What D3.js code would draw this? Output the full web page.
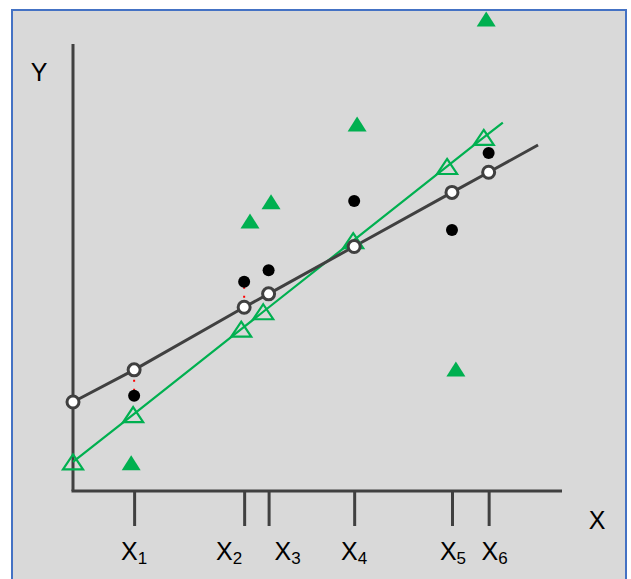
<!DOCTYPE html>
<html>
<head>
<meta charset="utf-8">
<script src="https://cdn.jsdelivr.net/npm/d3@7"></script>
<style>
  html, body { margin: 0; padding: 0; background: #ffffff; }
  svg { display: block; }
  text { font-family: "Liberation Sans", Arial, sans-serif; fill: #000; }
</style>
</head>
<body>
<svg id="chart" width="631" height="579"></svg>
<script>
// Tick categories along X
const tickNames = ["X", "X", "X", "X", "X", "X"];
const tickSubs  = ["1", "2", "3", "4", "5", "6"];
const tickX     = [1.25, 3.5, 4.0, 5.75, 7.75, 8.5];

// Observed values (black dots)
const observedY = [2.13, 4.68, 4.94, 6.49, 5.84, 7.56];

// Fitted values on the dark line (open circles), including the intercept point
const fitX = [0, 1.25, 3.5, 4.0, 5.75, 7.75, 8.5];
const fitY = [1.99, 2.71, 4.11, 4.41, 5.47, 6.68, 7.13];
const fitEnd = [9.51, 7.74];

// Second series (filled green triangles)
const greenX = [1.19, 3.62, 4.05, 5.81, 7.83, 8.45];
const greenY = [0.63, 6.04, 6.47, 8.21, 2.73, 10.56];

// Fitted values on the green line (open triangles), including the intercept point
const greenFitX = [0, 1.23, 3.44, 3.89, 5.73, 7.65, 8.40];
const greenFitY = [0.65, 1.71, 3.62, 4.01, 5.60, 7.26, 7.91];
const greenFitEnd = [8.79, 8.24];

// Residuals marked with a dotted red segment (indices into tickX)
const residualIdx = [0, 1];

const svg = d3.select("#chart");
const green = "#00b050";
const axisCol = "#404040";

// Frame
svg.append("rect")
  .attr("x", 12).attr("y", 10)
  .attr("width", 614).attr("height", 590)
  .attr("fill", "#d9d9d9")
  .attr("stroke", "#4472c4").attr("stroke-width", 2);

const x = d3.scaleLinear().domain([0, 10]).range([73, 562]);
const y = d3.scaleLinear().domain([0, 10]).range([491, 44]);

// Axes
svg.append("line")
  .attr("x1", x(0)).attr("x2", x(0))
  .attr("y1", y(0)).attr("y2", y(10))
  .attr("stroke", axisCol).attr("stroke-width", 3);

const xAxis = d3.axisBottom(x)
  .tickValues(tickX)
  .tickSize(35)
  .tickSizeOuter(0)
  .tickFormat("");
const gx = svg.append("g")
  .attr("transform", `translate(0,${y(0)})`)
  .call(xAxis);
gx.select(".domain").attr("stroke", axisCol).attr("stroke-width", 3)
  .attr("d", `M${x(0) - 1.5},0H${x(10)}`);
gx.selectAll(".tick line").attr("stroke", axisCol).attr("stroke-width", 3);

// Tick labels with subscripts; the close pair X2/X3 is spread apart
const labelNudge = [0, -15, 19, 0, 1, 6];
tickX.forEach((v, i) => {
  const t = svg.append("text")
    .attr("x", x(v) + labelNudge[i]).attr("y", 560)
    .attr("text-anchor", "middle")
    .style("font-size", "25px");
  t.append("tspan").text(tickNames[i]);
  t.append("tspan").attr("dy", 4).style("font-size", "17px").text(tickSubs[i]);
});

svg.append("text").attr("x", 597).attr("y", 529)
  .attr("text-anchor", "middle").style("font-size", "25px").text("X");
svg.append("text").attr("x", 39).attr("y", 81)
  .attr("text-anchor", "middle").style("font-size", "25px").text("Y");

const line = d3.line().x(d => x(d[0])).y(d => y(d[1]));

// Green fitted line
const greenPts = greenFitX.map((v, i) => [v, greenFitY[i]]).concat([greenFitEnd]);
svg.append("path").attr("d", line(greenPts))
  .attr("fill", "none").attr("stroke", green).attr("stroke-width", 2.2);

// Dark fitted line
const fitPts = fitX.map((v, i) => [v, fitY[i]]).concat([fitEnd]);
svg.append("path").attr("d", line(fitPts))
  .attr("fill", "none").attr("stroke", axisCol).attr("stroke-width", 3);

// Triangle path centred on its bounding box
function tri(w, h) {
  return `M0,${-h / 2}L${w / 2},${h / 2}L${-w / 2},${h / 2}Z`;
}

// Residual markers
residualIdx.forEach(i => {
  svg.append("line")
    .attr("x1", x(tickX[i])).attr("x2", x(tickX[i]))
    .attr("y1", y(observedY[i])).attr("y2", y(fitY[i + 1]))
    .attr("stroke", "#ff0000").attr("stroke-width", 2)
    .attr("stroke-dasharray", "2 7").attr("stroke-dashoffset", -5);
});

// Open green triangles (fitted)
svg.append("g").selectAll("path")
  .data(greenFitX.map((v, i) => [v, greenFitY[i]]))
  .join("path")
  .attr("transform", d => `translate(${x(d[0])},${y(d[1])})`)
  .attr("d", tri(20, 15))
  .attr("fill", "none").attr("stroke", green).attr("stroke-width", 2.2);

// Filled green triangles (observed)
svg.append("g").selectAll("path")
  .data(greenX.map((v, i) => [v, greenY[i]]))
  .join("path")
  .attr("transform", d => `translate(${x(d[0])},${y(d[1])})`)
  .attr("d", tri(19, 15))
  .attr("fill", green);

// Black observed dots
svg.append("g").selectAll("circle")
  .data(tickX.map((v, i) => [v, observedY[i]]))
  .join("circle")
  .attr("cx", d => x(d[0])).attr("cy", d => y(d[1]))
  .attr("r", 6).attr("fill", "#000");

// Open circles (fitted)
svg.append("g").selectAll("circle")
  .data(fitX.map((v, i) => [v, fitY[i]]))
  .join("circle")
  .attr("cx", d => x(d[0])).attr("cy", d => y(d[1]))
  .attr("r", 6).attr("fill", "#fff")
  .attr("stroke", axisCol).attr("stroke-width", 3);
</script>
</body>
</html>
